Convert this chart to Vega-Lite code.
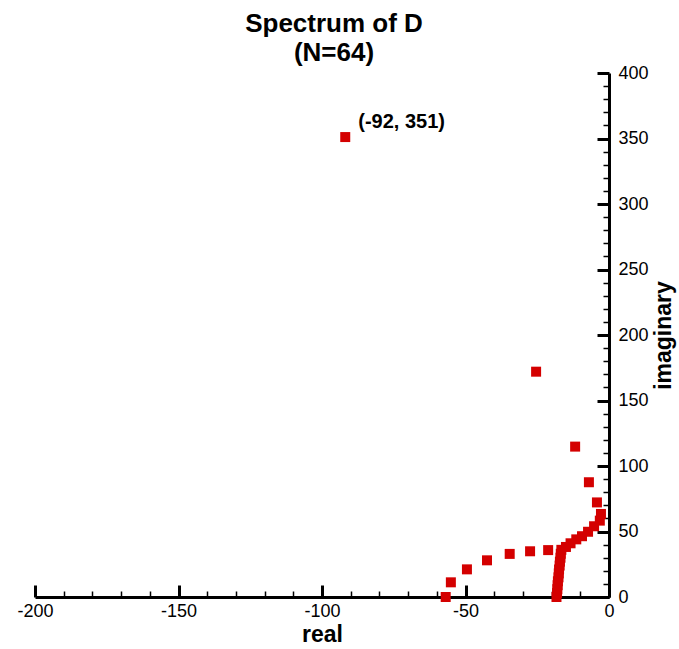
{
  "$schema": "https://vega.github.io/schema/vega-lite/v6.json",
  "width": 574,
  "height": 524,
  "autosize": "none",
  "padding": {"left": 35, "top": 73, "right": 70, "bottom": 52},
  "background": "white",
  "config": {"view": {"stroke": null}, "font": "Liberation Sans"},
  "title": {
    "text": ["Spectrum of D", "(N=64)"],
    "fontSize": 26,
    "fontWeight": "bold",
    "font": "Liberation Sans",
    "color": "black",
    "anchor": "middle",
    "frame": "group",
    "offset": -2,
    "lineHeight": 29,
    "dx": 12
  },
  "data": {
    "values": [
      {"re": -91.9, "im": 351.1, "label": "(-92, 351)"},
      {"re": -25.4, "im": 172.0},
      {"re": -11.8, "im": 114.8},
      {"re": -7.0, "im": 87.6},
      {"re": -4.2, "im": 72.2},
      {"re": -2.8, "im": 63.4},
      {"re": -3.2, "im": 58.3},
      {"re": -5.2, "im": 54.0},
      {"re": -7.3, "im": 49.8},
      {"re": -9.4, "im": 46.4},
      {"re": -11.4, "im": 44.0},
      {"re": -13.4, "im": 41.0},
      {"re": -15.0, "im": 38.2},
      {"re": -16.6, "im": 36.0},
      {"re": -56.9, "im": 0},
      {"re": -55.1, "im": 11.2},
      {"re": -49.5, "im": 21.1},
      {"re": -42.5, "im": 28.0},
      {"re": -34.6, "im": 32.9},
      {"re": -27.5, "im": 34.9},
      {"re": -21.2, "im": 35.8},
      {"re": -18.3, "im": 0},
      {"re": -18.1, "im": 3},
      {"re": -18.0, "im": 6},
      {"re": -17.9, "im": 9},
      {"re": -17.8, "im": 12},
      {"re": -17.6, "im": 15},
      {"re": -17.5, "im": 18},
      {"re": -17.4, "im": 21},
      {"re": -17.2, "im": 24},
      {"re": -17.1, "im": 27},
      {"re": -16.9, "im": 30},
      {"re": -16.8, "im": 33}
    ]
  },
  "encoding": {
    "x": {
      "field": "re",
      "type": "quantitative",
      "scale": {"domain": [-200, 0], "nice": false, "zero": false},
      "axis": {
        "orient": "bottom",
        "title": "real",
        "titleFontSize": 23,
        "titleFontWeight": "bold",
        "titleColor": "black",
        "titlePadding": -3,
        "values": [-200, -190, -180, -170, -160, -150, -140, -130, -120, -110, -100, -90, -80, -70, -60, -50, -40, -30, -20, -10, 0],
        "tickSize": {"condition": {"test": "datum.value % 50 === 0", "value": -12}, "value": -6},
        "tickWidth": {"condition": {"test": "datum.value % 50 === 0", "value": 3}, "value": 1.5},
        "tickColor": "black",
        "domainColor": "black",
        "domainWidth": 3,
        "labelExpr": "datum.value % 50 === 0 ? '' + datum.value : ''",
        "labelFontSize": 18,
        "labelColor": "black",
        "labelPadding": 17,
        "labelFlush": false,
        "labelOverlap": false,
        "grid": false
      }
    },
    "y": {
      "field": "im",
      "type": "quantitative",
      "scale": {"domain": [0, 400], "nice": false},
      "axis": {
        "orient": "right",
        "title": "imaginary",
        "titleFontSize": 23,
        "titleFontWeight": "bold",
        "titleColor": "black",
        "titleAngle": 270,
        "titlePadding": 27,
        "values": [0, 10, 20, 30, 40, 50, 60, 70, 80, 90, 100, 110, 120, 130, 140, 150, 160, 170, 180, 190, 200, 210, 220, 230, 240, 250, 260, 270, 280, 290, 300, 310, 320, 330, 340, 350, 360, 370, 380, 390, 400],
        "tickSize": {"condition": {"test": "datum.value % 50 === 0", "value": -12}, "value": -6},
        "tickWidth": {"condition": {"test": "datum.value % 50 === 0", "value": 3}, "value": 1.5},
        "tickColor": "black",
        "domainColor": "black",
        "domainWidth": 3,
        "labelExpr": "datum.value % 50 === 0 ? '' + datum.value : ''",
        "labelFontSize": 18,
        "labelColor": "black",
        "labelPadding": 21,
        "labelFlush": false,
        "labelOverlap": false,
        "grid": false
      }
    }
  },
  "layer": [
    {
      "mark": {"type": "square", "size": 100, "color": "#d40000", "opacity": 1, "filled": true}
    },
    {
      "transform": [{"filter": "isValid(datum.label)"}],
      "mark": {"type": "text", "align": "left", "baseline": "alphabetic", "dx": 13, "dy": -9, "fontSize": 20, "fontWeight": "bold", "color": "black"},
      "encoding": {"text": {"field": "label"}}
    }
  ]
}
